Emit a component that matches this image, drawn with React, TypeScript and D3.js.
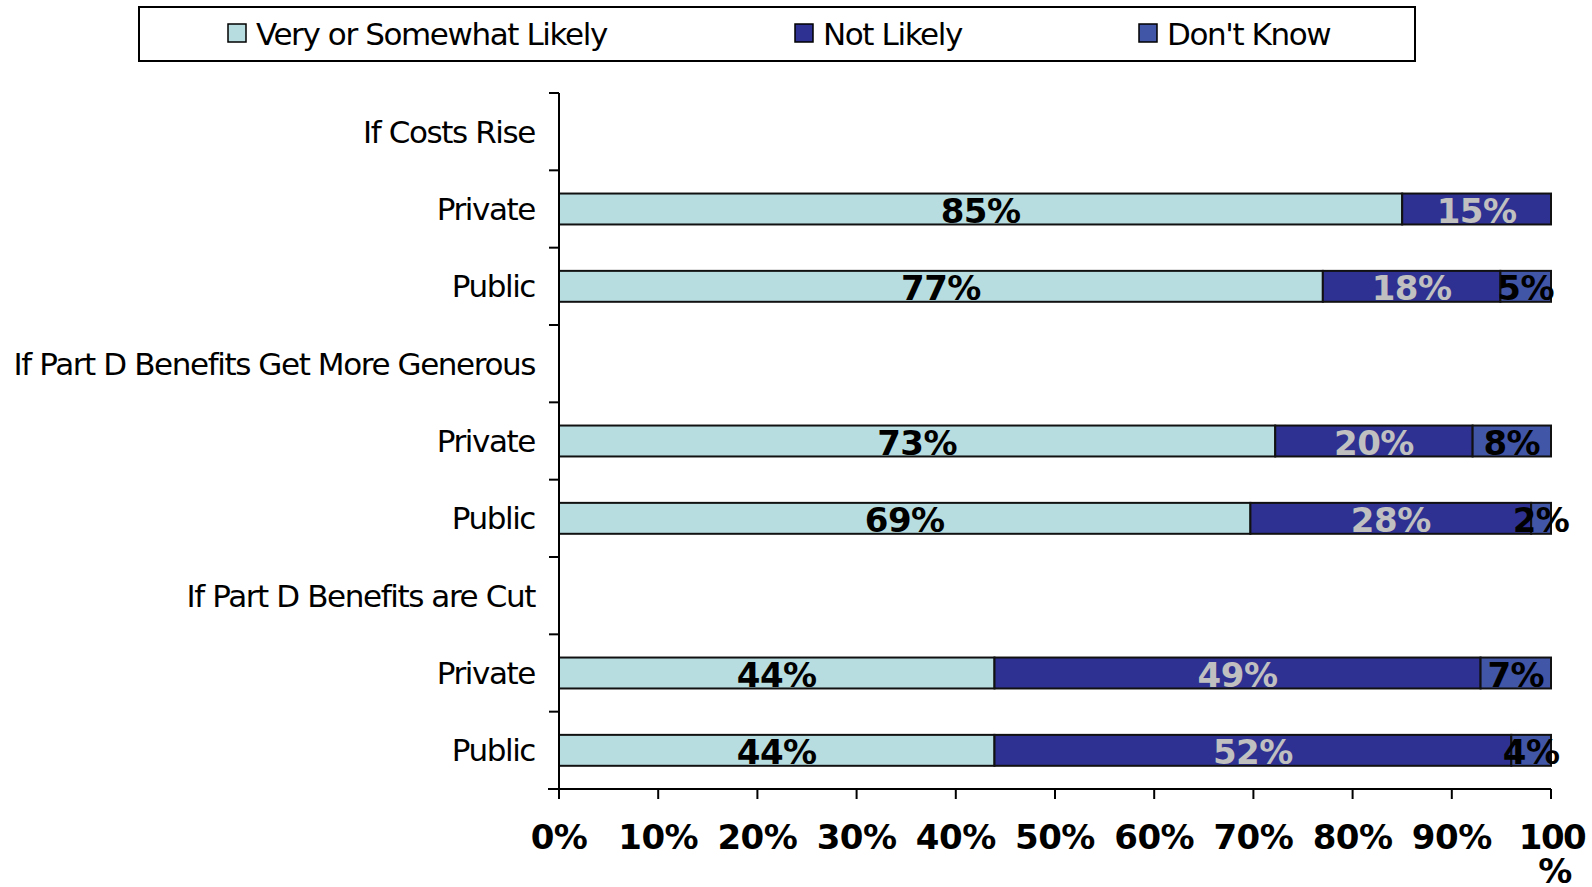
import React from "react";
import * as d3 from "d3";

const categories = [
  "If Costs Rise",
  "Private",
  "Public",
  "If Part D Benefits Get More Generous",
  "Private",
  "Public",
  "If Part D Benefits are Cut",
  "Private",
  "Public",
];
const likely = [0, 85, 77, 0, 72.2, 69.7, 0, 43.9, 43.9];
const notLikely = [0, 15, 17.9, 0, 19.9, 28.3, 0, 49, 52.1];
const dontKnow = [0, 0, 5.1, 0, 7.9, 2, 0, 7.1, 4];
const likelyLabels = ["", "85%", "77%", "", "73%", "69%", "", "44%", "44%"];
const notLikelyLabels = ["", "15%", "18%", "", "20%", "28%", "", "49%", "52%"];
const dontKnowLabels = ["", "", "5%", "", "8%", "2%", "", "7%", "4%"];
const hasBar = [false, true, true, false, true, true, false, true, true];
const xTicks = [0, 10, 20, 30, 40, 50, 60, 70, 80, 90, 100];
const seriesNames = ["Very or Somewhat Likely", "Not Likely", "Don't Know"];
const seriesColors = ["#B8DDE1", "#2E3191", "#4256A8"];
const labelColors = ["#000000", "#C0C0C0", "#000000"];

const W = 1592;
const H = 887;
const FONT = "'DejaVu Sans', sans-serif";
const NORMAL = { fontFamily: FONT, fontSize: 31, letterSpacing: -1.4 };
const BOLD = { fontFamily: FONT, fontSize: 34, fontWeight: "bold" as const, letterSpacing: -0.5 };

export default function App() {
  const x = d3.scaleLinear().domain([0, 100]).range([559, 1551]);
  const y = d3
    .scaleBand<number>()
    .domain(categories.map((_, i) => i))
    .range([93, 789])
    .padding(0);
  const bw = y.bandwidth();
  const bh = bw * 0.4;

  const rows = categories.map((c, i) => {
    const vals = [likely[i], notLikely[i], dontKnow[i]];
    const labs = [likelyLabels[i], notLikelyLabels[i], dontKnowLabels[i]];
    let acc = 0;
    const segs = vals.map((v, k) => {
      const s = { x0: acc, x1: acc + v, label: labs[k], k };
      acc += v;
      return s;
    });
    return { c, i, segs };
  });

  const legendX = [228, 795, 1139];

  return (
    <svg
      width={W}
      height={H}
      style={{ position: "absolute", left: 0, top: 0, background: "#fff" }}
    >
      {/* Legend */}
      <rect x={139} y={7} width={1276} height={54} fill="#fff" stroke="#000" strokeWidth={2} />
      {seriesNames.map((n, k) => (
        <g key={n}>
          <rect
            x={legendX[k]}
            y={24}
            width={18}
            height={18}
            fill={seriesColors[k]}
            stroke="#000"
            strokeWidth={1.5}
          />
          <text x={legendX[k] + 28} y={34} dy="0.35em" {...NORMAL} fill="#000">
            {n}
          </text>
        </g>
      ))}

      {/* Bars */}
      {rows.map((r) =>
        hasBar[r.i] ? (
          <g key={"b" + r.i}>
            {r.segs.map((s) =>
              s.x1 - s.x0 > 0 ? (
                <rect
                  key={s.k}
                  x={x(s.x0)}
                  y={(y(r.i) as number) + (bw - bh) / 2}
                  width={x(s.x1) - x(s.x0)}
                  height={bh}
                  fill={seriesColors[s.k]}
                  stroke="#111"
                  strokeWidth={2}
                />
              ) : null
            )}
          </g>
        ) : null
      )}

      {/* Data labels */}
      {rows.map((r) =>
        hasBar[r.i] ? (
          <g key={"l" + r.i}>
            {r.segs.map((s) =>
              s.label ? (
                <text
                  key={s.k}
                  x={x((s.x0 + s.x1) / 2)}
                  y={(y(r.i) as number) + bw / 2 + 2}
                  dy="0.35em"
                  textAnchor="middle"
                  {...BOLD}
                  fill={labelColors[s.k]}
                >
                  {s.label}
                </text>
              ) : null
            )}
          </g>
        ) : null
      )}

      {/* Y axis */}
      <line x1={559} x2={559} y1={93} y2={789} stroke="#000" strokeWidth={2} />
      {[...categories.map((_, i) => y(i) as number), 789].map((t, i) => (
        <line key={"yt" + i} x1={549} x2={559} y1={t} y2={t} stroke="#000" strokeWidth={2} />
      ))}
      {categories.map((c, i) => (
        <text
          key={"yl" + i}
          x={535}
          y={(y(i) as number) + bw / 2}
          dy="0.35em"
          textAnchor="end"
          {...NORMAL}
          fill="#000"
        >
          {c}
        </text>
      ))}

      {/* X axis */}
      <line x1={548} x2={1551} y1={789} y2={789} stroke="#000" strokeWidth={2} />
      {xTicks.map((t) => (
        <g key={"xt" + t}>
          <line x1={x(t)} x2={x(t)} y1={789} y2={799} stroke="#000" strokeWidth={2} />
          {t < 100 ? (
            <text x={x(t)} y={837} dy="0.35em" textAnchor="middle" {...BOLD} fill="#000">
              {t + "%"}
            </text>
          ) : (
            <g>
              <text
                x={x(t) + 1}
                y={837}
                dy="0.35em"
                textAnchor="middle"
                {...BOLD}
                letterSpacing={-1.5}
                fill="#000"
              >
                {String(t)}
              </text>
              <text x={x(t) + 4} y={871} dy="0.35em" textAnchor="middle" {...BOLD} fill="#000">
                %
              </text>
            </g>
          )}
        </g>
      ))}
    </svg>
  );
}
